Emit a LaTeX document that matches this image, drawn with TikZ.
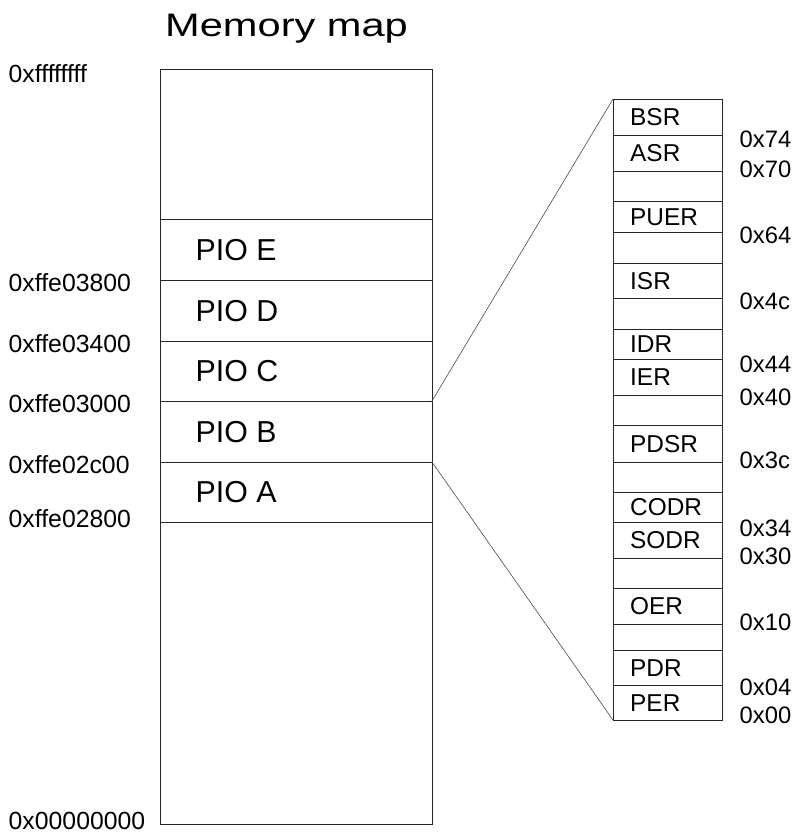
\documentclass[tikz,border=0pt]{standalone}
\usepackage{fontspec}
\usepackage{graphicx}
\setmainfont{Liberation Sans}
\begin{document}
\begin{tikzpicture}[x=1pt,y=-1pt,
  box/.style={draw=black!85, line width=0.9pt, rectangle, inner sep=0pt, outer sep=0pt, anchor=north west},
  link/.style={draw=black!70, line width=0.6pt},
  piotext/.style={inner sep=0pt, anchor=base west, font=\fontsize{30.3}{36}\selectfont},
  regtext/.style={inner sep=0pt, anchor=base west, font=\fontsize{24.4}{29}\selectfont},
  addrleft/.style={inner sep=0pt, anchor=base west, font=\fontsize{24.8}{30}\selectfont},
  addrright/.style={inner sep=0pt, anchor=base west, font=\fontsize{23.8}{29}\selectfont},
  titletext/.style={inner sep=0pt, anchor=base west, font=\fontsize{32.5}{39}\selectfont}]
\useasboundingbox[fill=white] (0,0) rectangle (798,836);

% title
\node[titletext] (title) at (165,36) {\scalebox{1.28}[1]{Memory map}};

% memory map column, top to bottom
\foreach \t/\b/\n/\l in {69/219/top/{}, 219/280.5/pioE/{PIO E}, 280.5/341/pioD/{PIO D},
    341/401/pioC/{PIO C}, 401/462/pioB/{PIO B}, 462/522/pioA/{PIO A}, 522/824/bottom/{}}{
  \pgfmathsetmacro\h{\b-\t}
  \pgfmathsetmacro\base{(\t+\b)/2+10.8}
  \node[box, minimum width=272pt, minimum height=\h pt] (\n) at (160,\t) {};
  \node[piotext] (\n-label) at (195.5,\base) {\l};
}

% addresses on the left
\foreach \y/\n/\a in {74/aTop/0xffffffff, 283/a3800/0xffe03800, 344/a3400/0xffe03400,
    404/a3000/0xffe03000, 465/a2c00/0xffe02c00, 519/a2800/0xffe02800, 821/aZero/0x00000000}{
  \pgfmathsetmacro\base{\y+8.9}
  \node[addrleft] (\n) at (8.5,\base) {\a};
}

% register block of one PIO controller
\foreach \t/\b/\n/\l in {99/135/bsr/BSR, 135/171/asr/ASR, 171/201/gap1/{}, 201/232/puer/PUER,
    232/263/gap2/{}, 263/298/isr/ISR, 298/329/gap3/{}, 329/359/idr/IDR, 359/395/ier/IER,
    395/425/gap4/{}, 425/462/pdsr/PDSR, 462/492/gap5/{}, 492/522/codr/CODR, 522/558/sodr/SODR,
    558/588/gap6/{}, 588/624/oer/OER, 624/650/gap7/{}, 650/685/pdr/PDR, 685/720/per/PER}{
  \pgfmathsetmacro\h{\b-\t}
  \pgfmathsetmacro\base{(\t+\b)/2+8.7}
  \node[box, minimum width=109pt, minimum height=\h pt] (\n) at (613,\t) {};
  \node[regtext] (\n-label) at (630,\base) {\l};
}

% register offsets
\foreach \y/\n/\a in {138.5/o74/0x74, 168.5/o70/0x70, 235/o64/0x64, 301/o4c/0x4c, 363.5/o44/0x44,
    396.7/o40/0x40, 460/o3c/0x3c, 527.5/o34/0x34, 556/o30/0x30, 621.7/o10/0x10,
    687/o04/0x04, 714.5/o00/0x00}{
  \pgfmathsetmacro\base{\y+8.5}
  \node[addrright] (\n) at (739.5,\base) {\a};
}

% zoom lines from PIO B to the register block
\draw[link] (pioB.north east) -- (bsr.north west);
\draw[link] (pioB.south east) -- (per.south west);
\end{tikzpicture}
\end{document}
